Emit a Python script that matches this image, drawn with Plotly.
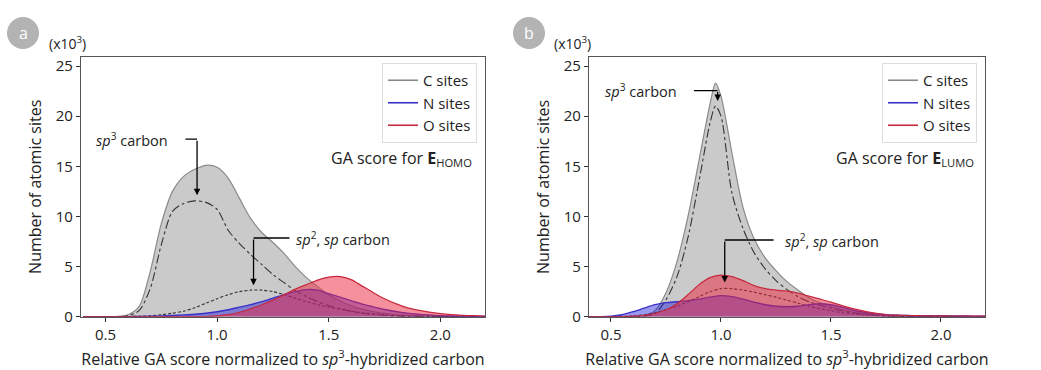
import plotly.graph_objects as go

# ---------------- data (counts in thousands) ----------------
x_grid = [0.40, 0.45, 0.50, 0.55, 0.60, 0.65, 0.70, 0.75, 0.80, 0.85, 0.90, 0.95,
          1.00, 1.05, 1.10, 1.15, 1.20, 1.25, 1.30, 1.35, 1.40, 1.45, 1.50, 1.55,
          1.60, 1.65, 1.70, 1.75, 1.80, 1.85, 1.90, 1.95, 2.00, 2.05, 2.10, 2.15, 2.20]

# Panel a : E_HOMO
c_homo = [0, 0, 0, 0.02, 0.2, 1.0, 4.5, 9.3, 12.5, 14.0, 14.7, 15.1,
          14.9, 13.8, 11.8, 9.8, 8.4, 7.4, 6.3, 5.0, 3.9, 3.0, 2.2, 1.6,
          1.1, 0.75, 0.5, 0.33, 0.22, 0.14, 0.09, 0.06, 0.04, 0.03, 0.02, 0.01, 0.01]
sp3_homo = [0, 0, 0, 0, 0.1, 0.6, 2.8, 7.2, 10.5, 11.3, 11.55, 11.4,
            10.7, 8.6, 7.3, 6.2, 5.2, 4.2, 3.4, 2.6, 2.0, 1.5, 1.1, 0.8,
            0.55, 0.35, 0.22, 0.14, 0.08, 0.05, 0.03, 0.02, 0.01, 0.01, 0.01, 0.0, 0.0]
sp2_homo = [0, 0, 0, 0, 0.02, 0.05, 0.1, 0.2, 0.35, 0.55, 0.9, 1.35,
            1.8, 2.2, 2.5, 2.65, 2.65, 2.5, 2.2, 1.85, 1.5, 1.2, 0.95, 0.75,
            0.55, 0.4, 0.3, 0.2, 0.13, 0.09, 0.06, 0.04, 0.03, 0.02, 0.01, 0.01, 0.0]
n_homo = [0, 0, 0, 0, 0.01, 0.03, 0.05, 0.08, 0.12, 0.18, 0.25, 0.35,
          0.5, 0.7, 0.95, 1.2, 1.5, 1.85, 2.2, 2.5, 2.7, 2.65, 2.3, 1.95,
          1.6, 1.25, 0.98, 0.72, 0.52, 0.36, 0.25, 0.17, 0.11, 0.07, 0.05, 0.03, 0.02]
o_homo = [0, 0, 0, 0, 0, 0, 0, 0, 0, 0, 0.01, 0.02,
          0.08, 0.2, 0.45, 0.8, 1.2, 1.65, 2.2, 2.75, 3.2, 3.65, 3.95, 4.0,
          3.7, 3.05, 2.4, 1.8, 1.3, 0.9, 0.65, 0.45, 0.3, 0.2, 0.14, 0.1, 0.07]

# Panel b : E_LUMO (carbon curves use a grid with an extra point at the sharp peak)
x_grid_c = [0.40, 0.45, 0.50, 0.55, 0.60, 0.65, 0.70, 0.75, 0.80, 0.85, 0.90, 0.95, 0.975,
            1.00, 1.05, 1.10, 1.15, 1.20, 1.25, 1.30, 1.35, 1.40, 1.45, 1.50, 1.55,
            1.60, 1.65, 1.70, 1.75, 1.80, 1.85, 1.90, 1.95, 2.00, 2.05, 2.10, 2.15, 2.20]
c_lumo = [0, 0, 0, 0, 0.02, 0.1, 0.6, 2.4, 5.5, 10.0, 15.6, 21.2, 23.3,
          22.0, 16.3, 10.9, 7.8, 5.9, 4.6, 3.5, 2.66, 1.9, 1.4, 1.0, 0.7,
          0.45, 0.3, 0.18, 0.1, 0.06, 0.04, 0.03, 0.02, 0.02, 0.01, 0.01, 0.01, 0.01]
sp3_lumo = [0, 0, 0, 0, 0, 0.05, 0.3, 1.7, 4.0, 7.9, 13.5, 19.3, 21.0,
            20.0, 12.3, 8.8, 6.4, 4.8, 3.6, 2.7, 2.0, 1.5, 1.15, 0.85, 0.6,
            0.4, 0.25, 0.15, 0.08, 0.04, 0.02, 0.02, 0.01, 0.01, 0.01, 0.0, 0.0, 0.0]
sp2_lumo = [0, 0, 0, 0.02, 0.08, 0.2, 0.4, 0.7, 1.05, 1.5, 2.0, 2.5,
            2.8, 2.8, 2.65, 2.45, 2.2, 1.95, 1.65, 1.35, 1.05, 0.8, 0.6, 0.42,
            0.3, 0.2, 0.12, 0.07, 0.04, 0.02, 0.02, 0.01, 0.01, 0.01, 0.0, 0.0, 0.0]
n_lumo = [0, 0.01, 0.05, 0.2, 0.5, 0.85, 1.2, 1.4, 1.5, 1.6, 1.75, 1.95,
          2.1, 2.0, 1.75, 1.45, 1.2, 1.05, 1.0, 1.05, 1.2, 1.3, 1.2, 0.95,
          0.65, 0.45, 0.3, 0.2, 0.15, 0.12, 0.1, 0.1, 0.09, 0.08, 0.07, 0.06, 0.05]
o_lumo = [0, 0, 0, 0.01, 0.05, 0.15, 0.35, 0.7, 1.3, 2.2, 3.2, 3.9,
          4.15, 4.0, 3.6, 3.1, 2.8, 2.65, 2.55, 2.35, 2.05, 1.75, 1.45, 1.1,
          0.8, 0.55, 0.35, 0.22, 0.15, 0.12, 0.1, 0.09, 0.08, 0.07, 0.06, 0.05, 0.05]

series_names = ["C sites", "N sites", "O sites"]
x_ticks = [0.5, 1.0, 1.5, 2.0]
y_ticks = [0, 5, 10, 15, 20, 25]

# ---------------- styles ----------------
FONT = "Open Sans"
C_LINE, C_FILL = "#8a8a8a", "rgba(150,150,150,0.5)"
N_LINE, N_FILL = "#3a2fc8", "rgba(40,40,220,0.48)"
O_LINE, O_FILL = "#c8283c", "rgba(235,35,60,0.5)"
DASHDOT = "#333333"
LEG_COLORS = [C_LINE, N_LINE, O_LINE]

fig = go.Figure()


def add_panel(xa, ya, xc, c, sp3, sp2, xo, n, o, legend):
    kw = dict(xaxis=xa, yaxis=ya, mode="lines", line_shape="spline", showlegend=False)
    fig.add_trace(go.Scatter(x=xc, y=c, fill="tozeroy", fillcolor=C_FILL,
                             line=dict(color=C_LINE, width=1.2, smoothing=0.8), **kw))
    fig.add_trace(go.Scatter(x=xc, y=sp3, line=dict(color=DASHDOT, width=1.1, dash="dashdot", smoothing=0.8), **kw))
    fig.add_trace(go.Scatter(x=xo, y=sp2, line=dict(color=DASHDOT, width=1.1, dash="3px,2px", smoothing=0.8), **kw))
    fig.add_trace(go.Scatter(x=xo, y=n, fill="tozeroy", fillcolor=N_FILL,
                             line=dict(color=N_LINE, width=1.4, smoothing=0.8), **kw))
    fig.add_trace(go.Scatter(x=xo, y=o, fill="tozeroy", fillcolor=O_FILL,
                             line=dict(color=O_LINE, width=1.2, smoothing=0.8), **kw))
    for name, col in zip(series_names, LEG_COLORS):
        fig.add_trace(go.Scatter(x=[None], y=[None], mode="lines", name=name,
                                 line=dict(color=col, width=1.6),
                                 xaxis=xa, yaxis=ya, legend=legend, showlegend=True))


add_panel("x", "y", x_grid, c_homo, sp3_homo, sp2_homo, x_grid, n_homo, o_homo, "legend")
add_panel("x2", "y2", x_grid_c, c_lumo, sp3_lumo, sp2_lumo, x_grid, n_lumo, o_lumo, "legend2")

axis_common = dict(showline=True, mirror=True, linecolor="#555555", linewidth=1.2,
                   ticks="outside", ticklen=4, tickcolor="#333333", showgrid=False,
                   zeroline=False, automargin=False,
                   tickfont=dict(family=FONT, size=15, color="#222"))
xtitle = dict(text="Relative GA score normalized to <i>sp</i><sup>3</sup>-hybridized carbon",
              font=dict(family=FONT, size=16, color="#222"), standoff=12)
ytitle = dict(text="Number of atomic sites", font=dict(family=FONT, size=16, color="#222"), standoff=10)

leg_common = dict(yanchor="top", xanchor="right", bgcolor="white", bordercolor="#dddddd",
                  borderwidth=1, font=dict(family=FONT, size=15, color="#222"), itemwidth=30,
                  xref="paper", yref="paper")

fig.update_layout(
    width=1041, height=370, margin=dict(l=0, r=0, t=0, b=0, autoexpand=False),
    paper_bgcolor="white", plot_bgcolor="white",
    font=dict(family=FONT, size=14, color="#222"),
    xaxis=dict(domain=[0.0778, 0.4659], range=[0.39, 2.2], tickvals=x_ticks,
               ticktext=[f"{v:.1f}" for v in x_ticks], anchor="y", title=xtitle, **axis_common),
    yaxis=dict(domain=[0.144, 0.846], range=[0, 25.9], tickvals=y_ticks, anchor="x",
               title=ytitle, **axis_common),
    xaxis2=dict(domain=[0.5658, 0.9462], range=[0.4, 2.2], tickvals=x_ticks,
                ticktext=[f"{v:.1f}" for v in x_ticks], anchor="y2", title=xtitle, **axis_common),
    yaxis2=dict(domain=[0.144, 0.846], range=[0, 25.9], tickvals=y_ticks, anchor="x2",
                title=ytitle, **axis_common),
    legend=dict(x=477 / 1041, y=1 - 63 / 370, **leg_common),
    legend2=dict(x=977 / 1041, y=1 - 63 / 370, **leg_common),
)

anns = []
shapes = []
# panel labels
for cx, label in [(23, "a"), (529, "b")]:
    shapes.append(dict(type="circle", xref="paper", yref="paper", layer="below",
                       x0=(cx - 16) / 1041, x1=(cx + 16) / 1041,
                       y0=1 - 49 / 370, y1=1 - 17 / 370,
                       fillcolor="#b3b3b3", line=dict(width=0)))
    anns.append(dict(text=label, x=cx / 1041, y=1 - 33 / 370, xref="paper", yref="paper",
                     xanchor="center", yanchor="middle",
                     showarrow=False, font=dict(family=FONT, size=16, color="white")))
# (x10^3)
for px in [67, 572]:
    anns.append(dict(text="(x10<sup>3</sup>)", x=px / 1041, y=1 - 43 / 370, xref="paper", yref="paper",
                     xanchor="center", yanchor="middle",
                     showarrow=False, font=dict(family=FONT, size=14, color="#222")))
# GA score texts
anns.append(dict(text="GA score for <b>E</b><sub>HOMO</sub>", x=0.455, y=1 - 158 / 370,
                 xref="paper", yref="paper", xanchor="right", yanchor="middle", showarrow=False,
                 font=dict(family=FONT, size=16, color="#222")))
anns.append(dict(text="GA score for <b>E</b><sub>LUMO</sub>", x=0.9375, y=1 - 158 / 370,
                 xref="paper", yref="paper", xanchor="right", yanchor="middle", showarrow=False,
                 font=dict(family=FONT, size=16, color="#222")))

# arrows: (xref, yref, text, text_x, anchor, x_start, x_vert, y_h, y_tip)
arrow_specs = [
    ("x", "y", "<i>sp</i><sup>3</sup> carbon", 0.787, "right", 0.858, 0.91, 17.7, 12.1),
    ("x", "y", "<i>sp</i><sup>2</sup>, <i>sp</i> carbon", 1.346, "left", 1.324, 1.163, 7.85, 3.15),
    ("x2", "y2", "<i>sp</i><sup>3</sup> carbon", 0.809, "right", 0.877, 0.985, 22.55, 21.5),
    ("x2", "y2", "<i>sp</i><sup>2</sup>, <i>sp</i> carbon", 1.284, "left", 1.239, 1.017, 7.65, 3.4),
]
for xr, yr, txt, tx, anc, xs, xv, yh, yt in arrow_specs:
    anns.append(dict(text=txt, x=tx, y=yh, xref=xr, yref=yr, xanchor=anc, yanchor="middle",
                     showarrow=False, font=dict(family=FONT, size=14.5, color="#222")))
    shapes.append(dict(type="line", xref=xr, yref=yr, x0=xs, x1=xv, y0=yh, y1=yh,
                       line=dict(color="black", width=1.3)))
    anns.append(dict(text="", x=xv, y=yt, ax=xv, ay=yh, xref=xr, yref=yr, axref=xr, ayref=yr,
                     showarrow=True, arrowhead=2, arrowsize=1, arrowwidth=1.3, arrowcolor="black"))

fig.update_layout(annotations=anns, shapes=shapes)
fig.write_html("out.html", config={"displayModeBar": False},
               post_script="document.body.style.margin='0';")
